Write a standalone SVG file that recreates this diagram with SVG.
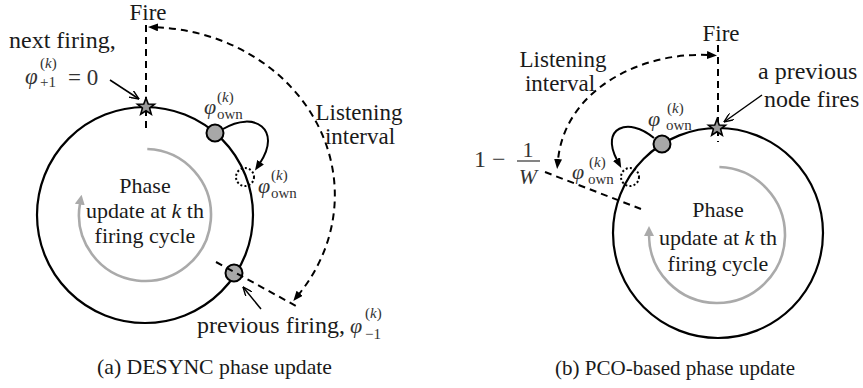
<svg xmlns="http://www.w3.org/2000/svg" width="863" height="388" viewBox="0 0 863 388">
<style>
.t{font-family:"Liberation Serif","Times New Roman","DejaVu Serif",serif;fill:#1a1a1a}
.m{font-family:"Liberation Serif","Times New Roman","DejaVu Serif",serif;fill:#333;font-style:italic}
.mr{font-family:"Liberation Serif","Times New Roman","DejaVu Serif",serif;fill:#333}
.ring{fill:none;stroke:#000;stroke-width:2.2}
.dash{fill:none;stroke:#000;stroke-width:2;stroke-dasharray:7 5}
.gray{fill:none;stroke:#aaa;stroke-width:2.6}
.node{fill:#a8a8a8;stroke:#000;stroke-width:2}
.dot{fill:none;stroke:#000;stroke-width:2;stroke-dasharray:2 2.2}
.curve{fill:none;stroke:#000;stroke-width:2}
.ptr{fill:none;stroke:#000;stroke-width:1.5}
.star{fill:#999;stroke:#000;stroke-width:1.6}
</style>
<defs>
<marker id="ab" viewBox="0 0 10 8" refX="1" refY="4" markerWidth="10" markerHeight="8" markerUnits="userSpaceOnUse" orient="auto-start-reverse"><path d="M0,0 L10,4 L0,8 z" fill="#000"/></marker>
<marker id="ag" viewBox="0 0 10 10" refX="1" refY="5" markerWidth="10" markerHeight="10" markerUnits="userSpaceOnUse" orient="auto"><path d="M0,0 L10,5 L0,10 z" fill="#aaa"/></marker>
<marker id="ao" viewBox="0 0 10 8" refX="9.5" refY="4" markerWidth="10" markerHeight="8" markerUnits="userSpaceOnUse" orient="auto"><path d="M0,0 L9.5,4 L0,8" fill="none" stroke="#000" stroke-width="1.4"/></marker>
<polygon id="st" class="star" points="0,-9 2.23,-3.07 8.56,-2.78 3.61,1.17 5.29,7.28 0,3.8 -5.29,7.28 -3.61,1.17 -8.56,-2.78 -2.23,-3.07"/>
</defs>

<!-- (a) DESYNC -->
<g id="a-ring"><circle class="ring" cx="145" cy="215" r="108"/></g>
<g id="a-cycle">
<path class="gray" d="M147.3,149 A66 66 0 1 1 80,203.5" marker-end="url(#ag)"/>
<text class="t" font-size="22" x="145" y="193" text-anchor="middle">Phase</text>
<text class="t" font-size="22" x="145" y="218" text-anchor="middle">update at <tspan font-style="italic">k</tspan> th</text>
<text class="t" font-size="22" x="145" y="243" text-anchor="middle">firing cycle</text>
</g>
<g id="connectors-a">
<line class="dash" x1="146" y1="25" x2="146" y2="128"/>
<path class="dash" d="M157,27.3 A187 168 0 0 1 299,294" marker-start="url(#ab)" marker-end="url(#ab)"/>
<path class="curve" d="M223,129 C255,110 282,130 260,163" marker-end="url(#ab)"/>
<line class="ptr" x1="110" y1="80" x2="139" y2="99" marker-end="url(#ao)"/>
<line class="ptr" x1="261" y1="309" x2="243" y2="287" marker-end="url(#ao)"/>
</g>
<g id="a-fire"><text class="t" font-size="23" x="148" y="20" text-anchor="middle">Fire</text></g>
<g id="a-next">
<use href="#st" x="146" y="107"/>
<text class="t" font-size="24" x="9" y="48">next firing,</text>
<text class="m" font-size="23" x="25" y="84">φ</text>
<text class="mr" font-size="15" x="40" y="68">(<tspan font-style="italic">k</tspan>)</text>
<text class="mr" font-size="15" x="40" y="87">+1</text>
<text class="mr" font-size="23" x="68" y="85">= 0</text>
</g>
<g id="a-own">
<circle class="node" cx="215" cy="133" r="8.5"/>
<text class="m" font-size="22" x="204" y="114">φ</text>
<text class="mr" font-size="15" x="217" y="102">(<tspan font-style="italic">k</tspan>)</text>
<text class="mr" font-size="15" x="217" y="119">own</text>
</g>
<g id="a-own-new">
<circle class="dot" cx="245" cy="177" r="9"/>
<text class="m" font-size="22" x="258" y="193">φ</text>
<text class="mr" font-size="15" x="271" y="180">(<tspan font-style="italic">k</tspan>)</text>
<text class="mr" font-size="15" x="271" y="198">own</text>
</g>
<g id="a-prev">
<circle class="node" cx="234" cy="273" r="8.5"/>
<line class="dash" x1="216" y1="262" x2="296" y2="306"/>
<text class="t" font-size="24" x="197" y="333">previous firing,</text>
<text class="m" font-size="22" x="350" y="333">φ</text>
<text class="mr" font-size="15" x="365" y="318">(<tspan font-style="italic">k</tspan>)</text>
<text class="mr" font-size="15" x="365" y="339">−1</text>
</g>
<g id="a-listen">
<text class="t" font-size="23" x="359" y="120" text-anchor="middle">Listening</text>
<text class="t" font-size="23" x="360" y="144" text-anchor="middle">interval</text>
</g>
<g id="a-caption"><text class="t" font-size="21.5" x="97" y="374" textLength="235" lengthAdjust="spacingAndGlyphs">(a) DESYNC phase update</text></g>

<!-- (b) PCO -->
<g id="b-ring"><circle class="ring" cx="718" cy="233" r="105"/></g>
<g id="b-cycle">
<path class="gray" d="M719.4,167 A68 68 0 1 1 649,235" marker-end="url(#ag)"/>
<text class="t" font-size="22" x="718" y="217" text-anchor="middle">Phase</text>
<text class="t" font-size="22" x="718" y="245" text-anchor="middle">update at <tspan font-style="italic">k</tspan> th</text>
<text class="t" font-size="22" x="718" y="271" text-anchor="middle">firing cycle</text>
</g>
<g id="connectors-b">
<line class="dash" x1="718" y1="45" x2="718" y2="142"/>
<path class="dash" d="M708,55 C640,52 565,90 558,160" marker-start="url(#ab)" marker-end="url(#ab)"/>
<path class="curve" d="M654,138 C628,116 600,128 617,160" marker-end="url(#ab)"/>
<line class="ptr" x1="762" y1="95" x2="724" y2="122" marker-end="url(#ao)"/>
<line class="dash" x1="545" y1="172" x2="641" y2="209"/>
</g>
<g id="b-fire"><text class="t" font-size="23" x="721" y="41" text-anchor="middle">Fire</text></g>
<g id="b-prevnode">
<use href="#st" x="717" y="128"/>
<text class="t" font-size="24" x="758" y="79">a previous</text>
<text class="t" font-size="24" x="764" y="107">node fires</text>
</g>
<g id="b-own">
<circle class="node" cx="662" cy="144" r="8.5"/>
<text class="m" font-size="22" x="648" y="126">φ</text>
<text class="mr" font-size="15" x="667" y="113">(<tspan font-style="italic">k</tspan>)</text>
<text class="mr" font-size="15" x="666" y="130">own</text>
</g>
<g id="b-own-new">
<circle class="dot" cx="630" cy="177" r="9"/>
<text class="m" font-size="22" x="572" y="179">φ</text>
<text class="mr" font-size="15" x="589" y="167">(<tspan font-style="italic">k</tspan>)</text>
<text class="mr" font-size="15" x="588" y="184">own</text>
</g>
<g id="b-threshold">
<text class="mr" font-size="24" x="474" y="167">1 −</text>
<text class="mr" font-size="22" x="528" y="157" text-anchor="middle">1</text>
<line x1="517" y1="161" x2="540" y2="161" stroke="#333" stroke-width="1.2"/>
<text class="m" font-size="22" x="528" y="184" text-anchor="middle">W</text>
</g>
<g id="b-listen">
<text class="t" font-size="23" x="563" y="67" text-anchor="middle">Listening</text>
<text class="t" font-size="23" x="560" y="91" text-anchor="middle">interval</text>
</g>
<g id="b-caption"><text class="t" font-size="21.5" x="555" y="375" textLength="240" lengthAdjust="spacingAndGlyphs">(b) PCO-based phase update</text></g>
</svg>
